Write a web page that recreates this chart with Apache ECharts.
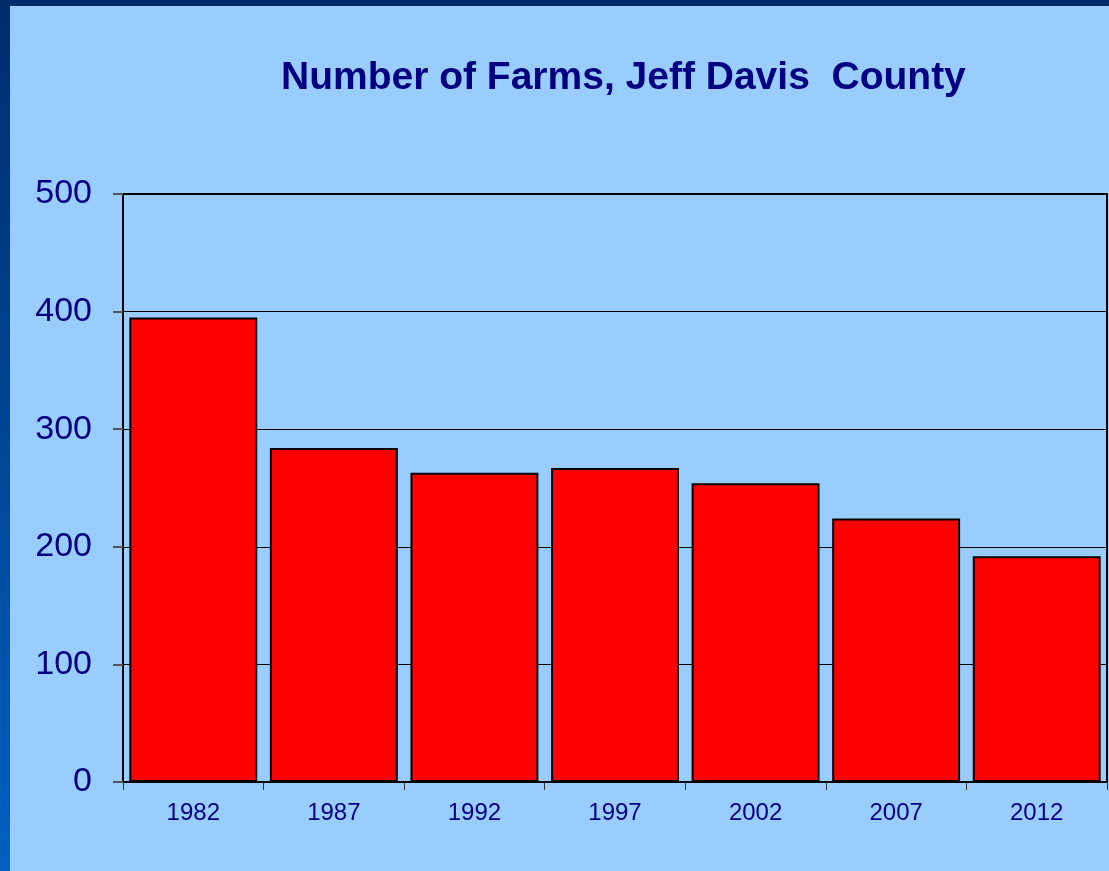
<!DOCTYPE html>
<html>
<head>
<meta charset="utf-8">
<script src="https://cdn.jsdelivr.net/npm/echarts@6/dist/echarts.min.js"></script>
<style>
html,body{margin:0;padding:0;background:#99CCFF;}
#chart{width:1109px;height:871px;}
</style>
</head>
<body>
<div id="chart"></div>
<script>
const titleText = 'Number of Farms, Jeff Davis  County';
const categories = ['1982', '1987', '1992', '1997', '2002', '2007', '2012'];
const farms = [395, 284, 263, 267, 254, 224, 192];
const yTicks = [0, 100, 200, 300, 400, 500];

const chart = echarts.init(document.getElementById('chart'), null, {renderer: 'canvas'});
const font = '"Liberation Sans", Arial, sans-serif';
chart.setOption({
  backgroundColor: '#99CCFF',
  animation: false,
  title: {
    text: titleText,
    left: 276,
    top: 54,
    textStyle: {fontFamily: font, fontSize: 39, fontWeight: 'bold', color: '#000080'}
  },
  graphic: [
    {type: 'rect', left: 0, top: 0, shape: {width: 1109, height: 6}, style: {fill: '#002C6C'}, z: 100},
    {type: 'rect', left: 0, top: 0, shape: {width: 10, height: 871},
     style: {fill: new echarts.graphic.LinearGradient(0, 0, 0, 1, [
       {offset: 0, color: '#002C6C'}, {offset: 1, color: '#0060C0'}])}, z: 100}
  ],
  grid: {
    left: 123, right: 2, top: 194, bottom: 89,
    show: true, borderColor: '#000', borderWidth: 2, backgroundColor: 'transparent'
  },
  xAxis: {
    type: 'category',
    data: categories,
    axisLine: {lineStyle: {color: '#000', width: 2}},
    axisTick: {show: true, length: 8, lineStyle: {color: '#333', width: 1}},
    axisLabel: {fontFamily: font, fontSize: 24, color: '#000080', margin: 19}
  },
  yAxis: {
    type: 'value',
    min: yTicks[0],
    max: yTicks[yTicks.length - 1],
    interval: yTicks[1] - yTicks[0],
    axisLine: {show: true, lineStyle: {color: '#000', width: 2}},
    axisTick: {show: true, length: 10, lineStyle: {color: '#555', width: 2}},
    axisLabel: {fontFamily: font, fontSize: 34, color: '#000080', margin: 31},
    splitLine: {show: true, lineStyle: {color: '#000', width: 1}}
  },
  series: [{
    type: 'bar',
    data: farms,
    barCategoryGap: '9%',
    itemStyle: {color: '#FF0000', borderColor: '#000', borderWidth: 2}
  }]
});
</script>
</body>
</html>
